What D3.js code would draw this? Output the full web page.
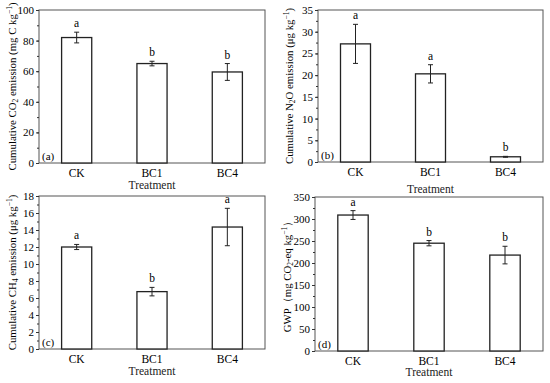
<!DOCTYPE html>
<html>
<head>
<meta charset="utf-8">
<script src="https://cdn.jsdelivr.net/npm/d3@7"></script>
<style>
  body { margin: 0; background: #fff; }
  svg { font-family: "Liberation Serif", "Times New Roman", serif; }
</style>
</head>
<body>
<script>
var width = 550
var height = 383

var treatments = ['CK', 'BC1', 'BC4']

var co2Values = [82, 65, 59.5]
var co2Errors = [3.5, 1.5, 5.5]
var co2Letters = ['a', 'b', 'b']

var n2oValues = [27.2, 20.3, 1.2]
var n2oErrors = [4.5, 2.1, 0.1]
var n2oLetters = ['a', 'a', 'b']

var ch4Values = [12.0, 6.75, 14.35]
var ch4Errors = [0.3, 0.5, 2.2]
var ch4Letters = ['a', 'b', 'a']

var gwpValues = [309, 245, 218]
var gwpErrors = [10, 6, 20]
var gwpLetters = ['a', 'b', 'b']

var svg = d3.select('body').append('svg')
  .attr('width', width)
  .attr('height', height)

// y label pieces: [text, 'sub'|'sup'|null]
var panels = [
  { tag: '(a)', values: co2Values, errors: co2Errors, letters: co2Letters,
    max: 100, major: 20, minor: 10, box: [39, 265, 10, 163], labelX: 12, titleY: 189,
    label: [['Cumulative CO', null], ['2', 'sub'], [' emission (mg C kg', null], ['\u22121', 'sup'], [')', null]] },
  { tag: '(b)', values: n2oValues, errors: n2oErrors, letters: n2oLetters,
    max: 35, major: 5, minor: 2.5, box: [318, 543, 10, 162], labelX: 289, titleY: 193,
    label: [['Cumulative N', null], ['2', 'sub'], ['O emission (\u03bcg kg', null], ['\u22121', 'sup'], [')', null]] },
  { tag: '(c)', values: ch4Values, errors: ch4Errors, letters: ch4Letters,
    max: 18, major: 2, minor: 1, box: [39, 265, 196, 349], labelX: 12, titleY: 375,
    label: [['Cumulative CH', null], ['4', 'sub'], [' emission (\u03bcg kg', null], ['\u22121', 'sup'], [')', null]] },
  { tag: '(d)', values: gwpValues, errors: gwpErrors, letters: gwpLetters,
    max: 350, major: 50, minor: 25, box: [315, 543, 197, 351], labelX: 287, titleY: 376,
    label: [['GWP\uff08mg CO', null], ['2', 'sub'], ['-eq kg', null], ['\u22121', 'sup'], ['\uff09', null]] }
]

panels.forEach(drawPanel)

function drawPanel (p) {
  var left = p.box[0]
  var right = p.box[1]
  var top = p.box[2]
  var bottom = p.box[3]

  var x = d3.scaleBand()
    .domain(treatments)
    .range([left, right])
    .paddingInner(0.6)
    .paddingOuter(0.3)

  var y = d3.scaleLinear()
    .domain([0, p.max])
    .range([bottom, top])

  var g = svg.append('g')

  // frame
  g.append('rect')
    .attr('x', left)
    .attr('y', top)
    .attr('width', right - left)
    .attr('height', bottom - top)
    .attr('fill', 'none')
    .attr('stroke', '#555')
    .attr('stroke-width', 1)

  // minor ticks
  g.append('g')
    .attr('transform', 'translate(' + left + ',0)')
    .call(d3.axisLeft(y).tickValues(d3.range(0, p.max + 0.001, p.minor)).tickSize(2).tickFormat(''))
    .call(function (a) { a.select('.domain').remove() })
    .selectAll('line').attr('stroke', '#333')

  // major ticks
  var yAxis = g.append('g')
    .attr('transform', 'translate(' + left + ',0)')
    .call(d3.axisLeft(y).tickValues(d3.range(0, p.max + 0.001, p.major)).tickSize(3).tickPadding(2))
  yAxis.select('.domain').remove()
  yAxis.selectAll('line').attr('stroke', '#333')
  yAxis.selectAll('text')
    .attr('font-family', '"Liberation Serif", "Times New Roman", serif')
    .attr('font-size', 11)
    .attr('fill', '#000')

  var xAxis = g.append('g')
    .attr('transform', 'translate(0,' + bottom + ')')
    .call(d3.axisBottom(x).tickSize(-2).tickPadding(6))
  xAxis.select('.domain').remove()
  xAxis.selectAll('line').attr('stroke', '#333')
  xAxis.selectAll('text')
    .attr('font-family', '"Liberation Serif", "Times New Roman", serif')
    .attr('font-size', 11.5)
    .attr('fill', '#000')

  // bars
  g.selectAll('.bar')
    .data(p.values)
    .enter()
    .append('rect')
    .attr('class', 'bar')
    .attr('x', function (d, i) { return x(treatments[i]) })
    .attr('y', function (d) { return y(d) })
    .attr('width', x.bandwidth())
    .attr('height', function (d) { return bottom - y(d) })
    .attr('fill', '#fff')
    .attr('stroke', '#222')
    .attr('stroke-width', 1.3)

  // error bars
  var cap = 2.5
  var err = g.selectAll('.err')
    .data(p.values)
    .enter()
    .append('g')
    .attr('class', 'err')
    .attr('stroke', '#222')
    .attr('stroke-width', 1)

  err.append('line')
    .attr('x1', function (d, i) { return x(treatments[i]) + x.bandwidth() / 2 })
    .attr('x2', function (d, i) { return x(treatments[i]) + x.bandwidth() / 2 })
    .attr('y1', function (d, i) { return y(d - p.errors[i]) })
    .attr('y2', function (d, i) { return y(d + p.errors[i]) })
  err.append('line')
    .attr('x1', function (d, i) { return x(treatments[i]) + x.bandwidth() / 2 - cap })
    .attr('x2', function (d, i) { return x(treatments[i]) + x.bandwidth() / 2 + cap })
    .attr('y1', function (d, i) { return y(d + p.errors[i]) })
    .attr('y2', function (d, i) { return y(d + p.errors[i]) })
  err.append('line')
    .attr('x1', function (d, i) { return x(treatments[i]) + x.bandwidth() / 2 - cap })
    .attr('x2', function (d, i) { return x(treatments[i]) + x.bandwidth() / 2 + cap })
    .attr('y1', function (d, i) { return y(d - p.errors[i]) })
    .attr('y2', function (d, i) { return y(d - p.errors[i]) })

  // significance letters
  g.selectAll('.sig')
    .data(p.values)
    .enter()
    .append('text')
    .attr('class', 'sig')
    .attr('x', function (d, i) { return x(treatments[i]) + x.bandwidth() / 2 })
    .attr('y', function (d, i) { return y(d + p.errors[i]) - 5 })
    .attr('text-anchor', 'middle')
    .attr('font-size', 11.5)
    .attr('fill', '#000')
    .text(function (d, i) { return p.letters[i] })

  // panel tag
  g.append('text')
    .attr('x', left + 3)
    .attr('y', bottom - 3)
    .attr('font-size', 11)
    .attr('fill', '#000')
    .text(p.tag)

  // x title
  g.append('text')
    .attr('x', (left + right) / 2)
    .attr('y', p.titleY)
    .attr('text-anchor', 'middle')
    .attr('font-size', 11.5)
    .attr('fill', '#222')
    .text('Treatment')

  // y title
  var yt = g.append('text')
    .attr('transform', 'translate(' + p.labelX + ',' + (top + bottom) / 2 + ') rotate(-90)')
    .attr('text-anchor', 'middle')
    .attr('dy', '0.35em')
    .attr('font-size', 10.8)
    .attr('fill', '#000')

  p.label.forEach(function (part) {
    var t = yt.append('tspan').text(part[0])
    if (part[1] === 'sub') {
      t.attr('font-size', 7.5).attr('baseline-shift', '-25%')
    } else if (part[1] === 'sup') {
      t.attr('font-size', 7.5).attr('baseline-shift', '55%')
    }
  })
}
</script>
</body>
</html>
